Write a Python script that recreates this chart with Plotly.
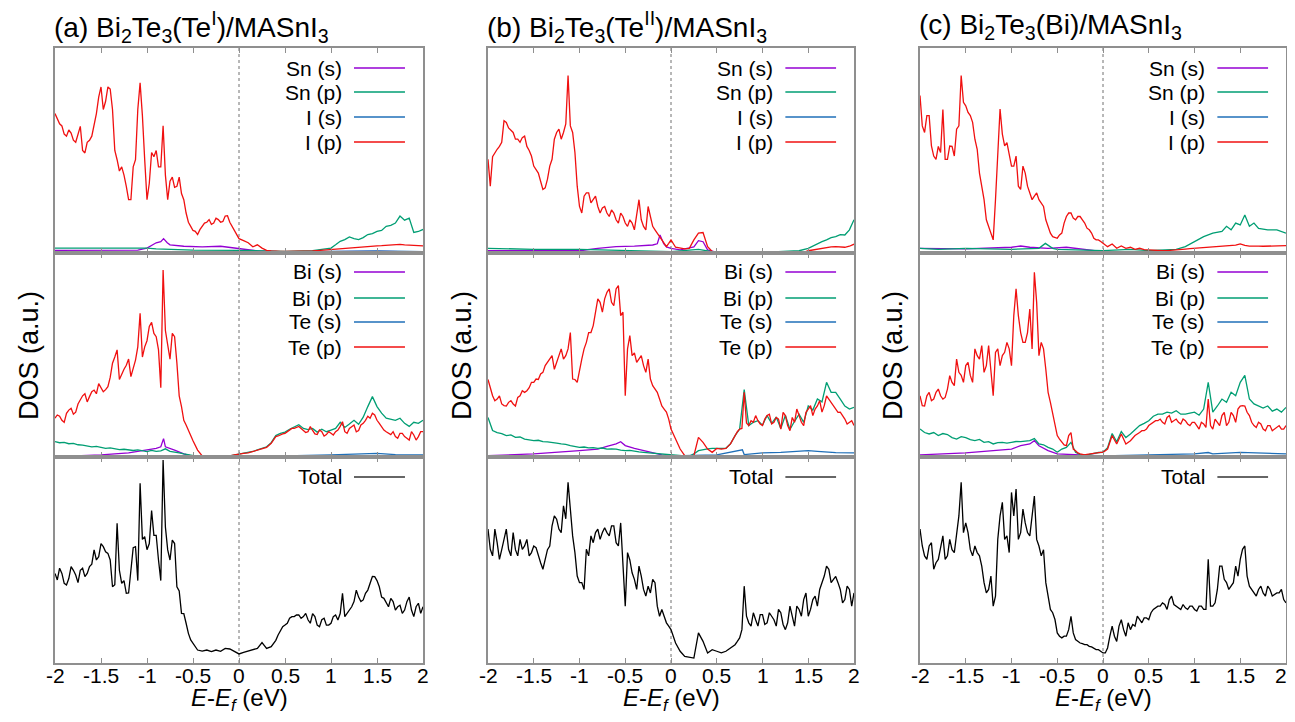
import numpy as np
import plotly.graph_objects as go

# ---------------- data (values in % of panel height) ----------------
E_TICKS = [-2, -1.5, -1, -0.5, 0, 0.5, 1, 1.5, 2]
E_TICKTEXT = ["-2", "-1.5", "-1", "-0.5", "0", "0.5", "1", "1.5", "2"]

titles = ["(a) Bi<sub>2</sub>Te<sub>3</sub>(Te<sup>I</sup>)/MASnI<sub>3</sub>",
          "(b) Bi<sub>2</sub>Te<sub>3</sub>(Te<sup>II</sup>)/MASnI<sub>3</sub>",
          "(c) Bi<sub>2</sub>Te<sub>3</sub>(Bi)/MASnI<sub>3</sub>"]
top_labels = ["Sn (s)", "Sn (p)", "I (s)", "I (p)"]
mid_labels = ["Bi (s)", "Bi (p)", "Te (s)", "Te (p)"]
bot_labels = ["Total"]

# main curves: values every 0.05 eV from -2 to 2; *_mid arrays: values read half-way
# between those points (start energy given in the *_start constants)

# ---- panel (a) ----
a_Ip = [68, 63, 58, 60, 55, 58, 50, 54, 57, 68, 81, 74, 80, 50, 40, 38, 26, 42, 70, 67,
        26, 49, 50, 42, 38, 35, 32, 37, 26, 15, 11, 9, 13, 15, 14, 17, 15, 18, 15, 11,
        7, 6, 5, 3, 4, 2.4, 1.3, 1.0, 0.8, 0.8, 0.8, 0.8, 0.8, 0.8, 0.9, 1.0, 1.0, 1.2, 1.4, 1.5,
        1.6, 1.8, 2.0, 2.2, 2.4, 2.6, 2.8, 3.0, 3.2, 3.4, 3.5, 3.6, 3.8, 3.8, 4.0, 4.2, 4.0, 3.8, 3.5, 3.6, 3.5]
a_Ip_mid_start = -1.975
a_Ip_mid = [65, 62, 57, 58.5, 54, 61.8, 48.8, 55, 61.8, 76, 70, 81, 70, 45.5, 42, 32.5, 26, 45.5, 83, 45.5,
            34, 47, 42, 62, 26, 37, 32.5, 29, 19.5, 13, 10.6, 11.4, 14.6, 16.3, 14.6, 16.3, 15.4, 18.2, 13, 9]
a_Snp_x = [-2, -1.5, -1.0, -0.9, -0.5, 0, 0.3, 0.5, 0.8, 1.0, 1.05, 1.1, 1.15, 1.2, 1.25, 1.3, 1.35, 1.4,
           1.45, 1.5, 1.55, 1.6, 1.65, 1.7, 1.75, 1.8, 1.85, 1.9, 1.95, 2.0]
a_Snp = [2.4, 2.4, 2.4, 2.0, 1.4, 1.3, 0.9, 0.8, 1.2, 2.4, 4, 5.7, 6.5, 7.8, 7, 6.5, 7.5, 9,
         9.5, 10.5, 11, 13, 13.5, 14.6, 18, 16, 17, 10, 10.5, 11.5]
a_Sns_x = [-2, -1.5, -1.1, -1.0, -0.9, -0.85, -0.82, -0.78, -0.75, -0.6, -0.4, -0.2, -0.1, 0, 0.2, 0.5, 1.0, 1.5, 2.0]
a_Sns = [1.3, 1.3, 1.4, 2.4, 5, 5.5, 7, 5, 4, 3.3, 3.0, 3.3, 2.8, 2.0, 1.0, 0.5, 0.8, 0.8, 0.5]
a_Is_x = [-2, 0, 1.5, 2]
a_Is = [0.4, 0.4, 1.0, 0.6]

a_Tep = [19, 20, 17, 23, 21, 26, 30, 27, 32, 31, 34, 33, 39, 49, 38, 43, 48, 44, 54, 49,
         57, 66, 59, 34, 62, 48, 59, 30, 18, 13, 8, 3.4, 0.5, 0.2, 0, 0.1, 0.2, 0.3, 0.5, 1.0,
         1.5, 1.8, 2, 2.6, 3.4, 4, 4.7, 6.7, 10, 11, 11.6, 13, 14, 15, 13, 12.4, 13, 11, 12.4, 11,
         11.6, 12.4, 15, 12.4, 14, 15.7, 13, 16.5, 20, 21.4, 18, 15, 12.4, 11, 10, 11.6, 10, 8.3, 10.8, 10, 12.4]
a_Tep_midL_start = -1.975
a_Tep_midL = [20.6, 18, 21.4, 23.9, 22, 28, 31, 29.6, 32.8, 36, 32, 34.5, 46, 52.5, 41, 45, 39.4, 47.5, 70.4, 54,
              64, 60.6, 52.5, 91.7, 55.7, 60.6, 46, 24.7, 15.7, 10.8]
a_Tep_midR_start = 0.425
a_Tep_midR = [10.3, 11.3, 12.4, 14, 14.5, 14, 12, 14.9, 11.3, 13.2, 10.3, 12.4, 10.8, 13.2, 17.3, 11.6,
              14.9, 12.4, 15.7, 18, 19, 20.6, 16.5, 13.2, 11.6, 12.4, 9.2, 11.6, 9.2, 12.4, 8.3, 12.4]
a_Bip = [7.5, 7, 7.2, 6.5, 6.7, 6, 5.8, 5.3, 5, 5.2, 4.6, 4.2, 4.5, 4, 3.6, 3.8, 3.4, 3.2, 3.5, 3,
         2.6, 3.2, 2.8, 3, 4, 2.8, 2.5, 2, 1.5, 1, 0.6, 0.3, 0.2, 0.2, 0.1, 0.2, 0.3, 0.4, 0.6, 1.0,
         1.5, 1.8, 2.1, 2.7, 3.5, 4.2, 5, 7, 10.5, 11.6, 12.2, 13.6, 14.8, 15.8, 14, 13.4, 14, 12.2, 13.6, 12.4,
         13.2, 14, 17, 14.5, 16.2, 18, 16, 19.5, 24.7, 29.6, 24.7, 21.5, 19, 18.5, 18, 19, 16.5, 15, 17, 16.5, 18]
a_Bis_x = [-2, -1.5, -1.2, -1.0, -0.9, -0.85, -0.82, -0.8, -0.75, -0.7, -0.6, -0.5, 0, 1, 2]
a_Bis = [0.2, 1, 2, 3.4, 4.2, 5, 9, 5, 4, 3.4, 1.5, 0.3, 0.2, 0.2, 0.2]
a_Tes_x = [-2, -1, 0, 0.5, 1, 1.5, 1.7, 2]
a_Tes = [0.3, 0.3, 0.3, 0.6, 1, 1.8, 1.2, 1.0]

a_Tot = [43.5, 46, 38.7, 41, 45, 39, 46, 43.5, 48, 50, 58, 54, 50, 38, 45, 40, 34, 56, 40, 60,
         55, 74, 62, 40, 66, 50, 58, 35, 24, 14.4, 9.5, 6.3, 5.8, 6.3, 5.5, 6.3, 5.7, 7.1, 6.8, 5.5,
         4.4, 5.2, 5.8, 6.3, 7.1, 9.9, 7.1, 7.9, 11, 16, 18.4, 21.7, 22.5, 23.3, 22.5, 21, 24, 18.4, 21, 18.4,
         19.3, 23.3, 24, 22.5, 25.7, 29.8, 32, 30.6, 35.4, 42, 40, 32, 29, 31.4, 25.7, 28, 25.7, 32, 22.5, 29, 27.3]
a_Tot_midL_start = -1.975
a_Tot_midL = [40.3, 43.5, 37.9, 46.8, 42.7, 45, 41.9, 46.8, 54.9, 51.6, 56.5, 53.2, 37, 67.8, 38.7, 33.8, 43.5, 56.5, 87.2, 61.3,
              58, 62, 50, 98.5, 54.9, 59.7, 37, 24.1, 19.3, 11.2]
a_Tot_midR_start = 0.425
a_Tot_midR = [13.6, 17.6, 19.3, 22.5, 23.3, 21.7, 24.1, 19.3, 22.5, 17.6, 21.7, 18.4, 22.5, 20.9, 33.8, 24.1,
              27.3, 35.4, 29.8, 33.8, 38.7, 41.9, 37, 31.4, 27.3, 29.8, 27.3, 24.1, 29.8, 25.7, 27.3, 24.1]

# ---- panel (b) ----
b_Ip = [45.7, 47, 50.6, 54, 63.7, 60, 55.5, 54, 57, 50, 42.4, 39, 31, 36, 45.7, 58.8, 55.5, 63, 62, 49,
        22.7, 27.7, 29.3, 26, 22.7, 22, 19.5, 21, 16.2, 19.5, 14.6, 16.2, 11.3, 26, 13, 22.7, 13, 9.7, 6.4, 3.1,
        6.4, 2.8, 2.3, 2, 2.3, 6.4, 9.7, 10, 3.1, 0.7, 0.3, 0.3, 0.3, 0.3, 0.3, 0.3, 0.3, 0.3, 0.3, 0.3,
        0.3, 0.3, 0.3, 0.3, 0.3, 0.3, 0.3, 0.3, 0.3, 0.3, 1.1, 1.5, 2, 2.4, 2.8, 3, 3.1, 2.9, 2.8, 3.3, 4.3]
b_Ip_mid_start = -1.975
b_Ip_mid = [32.6, 49, 52, 64.5, 61, 58.8, 55.5, 56.3, 52, 47.3, 40.8, 35, 31.8, 42.4, 55.5, 60.4, 58.8, 86.6, 58.8, 32.6,
            19.5, 29.3, 24.4, 27.7, 19.5, 22.7, 17.8, 19.5, 14.6, 17.8, 13, 14.6, 19.5, 16.2, 11.3, 17.8, 11.3, 8, 4.7, 4.7]
b_Snp_x = [-2, -1.5, -1.0, -0.5, 0, 0.3, 0.5, 1.0, 1.4, 1.5, 1.55, 1.6, 1.65, 1.7, 1.75, 1.8, 1.85, 1.9, 1.95, 2.0]
b_Snp = [2.3, 1.8, 1.8, 1.2, 0.7, 1.8, 0.3, 0.3, 1.1, 2.3, 3.5, 4.7, 5.5, 6.4, 7.5, 8, 9, 8.8, 11.3, 16.2]
b_Sns_x = [-2, -1.0, -0.8, -0.6, -0.4, -0.2, -0.15, -0.12, -0.08, -0.05, 0, 0.1, 0.25, 0.3, 0.35, 0.4, 0.5, 2.0]
b_Sns = [1.1, 1.1, 2.3, 3.1, 3.4, 3.9, 4.5, 8.8, 4.5, 3, 2.3, 1.5, 3, 6, 5.5, 1.5, 0.3, 0.3]
b_Is_x = [-2, 2]
b_Is = [0.4, 0.4]

b_Tep = [38, 30, 28.4, 26, 25, 27.6, 25, 30, 31.7, 34, 36.6, 38, 41.5, 46.4, 49.7, 46.4, 53, 49.7, 61, 38,
         41.5, 53, 61, 64.4, 77.5, 71, 80.7, 75.8, 82.4, 69.3, 30, 59.5, 51, 48, 44.8, 48, 35, 31.7, 25, 22,
         13.7, 8.8, 3.9, 0.7, 0.3, 0.7, 9.6, 7.2, 3.9, 2.3, 4.2, 3.9, 4.2, 6.4, 10.5, 13.7, 31.7, 15.4, 17, 17.8,
         15.4, 20.3, 16.2, 19.4, 13.7, 20.3, 12.9, 17, 20.3, 15.4, 23.5, 20.3, 25, 22, 30, 26.8, 23.5, 22, 18.6, 17, 15.4]
b_Tep_midL_start = -1.975
b_Tep_midL = [33.3, 27.6, 30, 25.2, 26.8, 26, 29.2, 32.5, 32.5, 36.6, 38.2, 40.7, 44.8, 48, 43, 50.5, 48, 53, 38.2, 36.6,
              48, 56.2, 61, 71, 75.8, 77.5, 82.4, 74.2, 84, 71, 53, 49.7, 46.4, 49.7, 41.5, 38.2, 33.3, 28.4, 23.5, 18.6]
b_Tep_midR_start = 0.725
b_Tep_midR = [12.4, 14, 16.7, 17.8, 20.3, 16.2, 18.6, 21, 17, 18.6, 21.9, 15.4, 19.4, 23.5, 17, 21.9,
              25.2, 23.5, 27.6, 25.2, 28.4, 25.2, 21.9, 20.3, 16.2, 17.8]
b_Bip = [19.4, 13, 12, 11.5, 10.5, 10.8, 9.6, 9.8, 8.8, 8.5, 8, 8.2, 7.5, 7.4, 7.2, 6.8, 6.4, 6.2, 5.6, 5.2,
         4.7, 4.9, 4.5, 4.6, 4.2, 4.4, 3.9, 4.0, 3.9, 3.4, 3.1, 3.2, 2.7, 2.5, 2.3, 2.1, 2.0, 1.8, 1.5, 1.2,
         1.0, 0.7, 0.5, 0.5, 0.5, 1.5, 3.1, 3.6, 4, 4.2, 4.2, 4, 4.3, 6.5, 10.5, 13.7, 33, 15.4, 17, 17.8,
         15.6, 20.3, 16.5, 19.6, 14, 20.5, 13.5, 17.5, 21, 17, 25, 23, 28.4, 27, 36.6, 31.7, 31.7, 28.4, 25, 23.5, 24.3]
b_Bis_x = [-2, -1.5, -1.0, -0.8, -0.7, -0.6, -0.55, -0.5, -0.4, -0.3, -0.2, -0.1, 0, 2]
b_Bis = [0.7, 1.5, 3.1, 3.9, 5.2, 6.4, 7.5, 5.6, 4.2, 3.1, 2, 1, 0.7, 0.4]
b_Tes_x = [-2, 0, 0.5, 0.78, 0.8, 1.0, 1.2, 1.5, 1.6, 1.8, 2.0]
b_Tes = [0.5, 0.5, 1, 3.5, 1.2, 2, 2.3, 3.1, 2.8, 2.1, 2]

b_Tot = [65, 52, 58.4, 55, 65, 52, 55, 60, 56.8, 52, 56.8, 52, 45.5, 55, 66.6, 69.8, 63.3, 70, 73, 53.6,
         39, 35.7, 52, 58.4, 65, 63.3, 63.3, 66.6, 58.4, 68, 27.6, 50, 40.6, 47, 35.7, 37.3, 40.6, 27.6, 26, 19.5,
         16.2, 9.7, 5.7, 3.2, 2.9, 2.4, 14.6, 10.5, 4.9, 6.5, 5.7, 4.9, 5.7, 7.3, 8.9, 12.2, 37.3, 19.5, 24.4, 17.9,
         23.5, 19.5, 22.7, 17.9, 24.4, 16.2, 27.6, 17.9, 26, 30.8, 22.7, 30.8, 27.6, 39, 47, 39, 42, 35.7, 30.8, 35.7, 34]
b_Tot_midL_start = -1.975
b_Tot_midL = [55.2, 65, 50.3, 60, 55.2, 63.3, 52, 55.2, 60, 53.6, 56, 48.7, 50.3, 56.8, 71.4, 65, 76.3, 87.7, 61.7, 42.2,
              39, 55.2, 61.7, 63.3, 60, 65.7, 61.7, 66.6, 56.8, 50.3, 53.6, 43.8, 35.7, 42.2, 32.5, 34, 39, 22.7, 22.7, 17.9]
b_Tot_midR_start = 0.725
b_Tot_midR = [10.5, 16.2, 22.7, 17.9, 21, 23.5, 18.7, 24.4, 21, 26, 18.7, 19.5, 22.7, 27.6, 22.7, 34,
              26, 32.5, 35.7, 42.2, 45.5, 40.6, 39, 29.2, 37.3, 27.6]

# ---- panel (c) ----
c_Ip = [76.8, 58.8, 67, 47.3, 52, 70, 45.7, 52, 60.4, 86.6, 71.8, 67, 55.5, 39, 26, 13, 6.4, 45, 58, 53.8,
        42.4, 47.3, 31, 39, 29.3, 27.7, 26, 22.7, 13, 8, 7.2, 9.7, 17.8, 19.5, 16.2, 17.8, 14.6, 11.3, 7.2, 6.4,
        4.7, 3.1, 4.4, 2.3, 3.4, 2.3, 2.8, 1.8, 2.3, 1.6, 1.5, 1.3, 1.1, 1.1, 1.2, 1.3, 1.5, 1.7, 1.9, 2.1,
        2.3, 2.4, 2.5, 2.7, 2.8, 3.0, 3.2, 3.4, 3.6, 3.8, 4.4, 3.7, 3.4, 3.5, 3.4, 3.3, 3.4, 3.5, 3.6, 3.4, 3.6]
c_Ip_mid_start = -1.975
c_Ip_mid = [62, 67, 52.2, 45.7, 49, 45.7, 52.2, 47.3, 62, 73.5, 68.6, 63.7, 50.6, 32.6, 16.2, 9.7, 26, 70.2, 52.2, 47.3,
            42.4, 32.6, 42.4, 32.6, 26, 29.3, 24.4, 16.2, 9.7, 7.7, 8.8, 14.6, 19.5, 17, 17.8, 16.2, 12.1, 9.7, 6.4, 5.6]
c_Snp_x = [-2, -1.8, -1.5, -1.0, -0.7, -0.63, -0.55, -0.5, 0, 0.3, 0.5, 0.8, 0.9, 1.0, 1.1, 1.2, 1.3, 1.35,
           1.4, 1.45, 1.5, 1.55, 1.6, 1.65, 1.7, 1.8, 1.9, 2.0]
c_Snp = [2.3, 1.8, 2.3, 1.8, 2.3, 4.7, 2.3, 1.8, 1.2, 1.8, 1.2, 1.8, 3.1, 5.6, 8, 9.7, 10.5, 13,
         11.3, 14.6, 13.7, 18.5, 13, 14.6, 12, 11.3, 11.3, 9.7]
c_Sns_x = [-2, -1.5, -1.0, -0.9, -0.8, -0.6, -0.4, -0.2, 0, 2]
c_Sns = [2.3, 2, 2.8, 3.4, 2.8, 2.3, 2.8, 1.8, 0.7, 0.5]
c_Is_x = [-2, 2]
c_Is = [0.4, 0.4]

c_Tep = [30, 25, 31.7, 28.4, 33.3, 28.4, 33.3, 36.6, 48, 40, 44.8, 40, 53, 48, 41.5, 54.6, 30, 53, 49.7, 56.2,
         44.8, 82.4, 61, 56.2, 72.5, 90.5, 49.7, 53, 31.7, 21.9, 10.5, 7.2, 5.6, 12, 3.1, 1.5, 1, 1.5, 2, 2.3,
         2.3, 3.9, 10.5, 6.4, 11.3, 6.4, 8, 10.5, 12, 12.9, 15.4, 17, 17.8, 17, 19.4, 17, 18.6, 16.2, 17.8, 15.4,
         17, 13.7, 16.2, 28.4, 13.7, 17, 20.3, 15.4, 21.9, 17, 25, 25, 20.3, 15.4, 17, 13.7, 15.4, 12.9, 14.5, 13.7, 15.4]
c_Tep_midL_start = -1.975
c_Tep_midL = [25.2, 30, 27.6, 31.7, 30, 29.2, 39.9, 35, 41.5, 36.6, 46.4, 36.6, 49.7, 54.6, 44.8, 39.9, 51.3, 44.8, 51.3, 53,
              69.3, 69.3, 56.2, 61, 53, 75.8, 56.2, 43, 26.8, 15.4, 8.8, 5.9, 10.5, 3.9, 2, 1.1, 1.3, 1.8, 2.1, 2.3]
c_Tep_midR_start = 0.425
c_Tep_midR = [12.9, 13.7, 16.2, 17.8, 18.6, 16.2, 20.3, 17.8, 17, 18.6, 16.2, 17, 15.4, 17, 14.5, 15.4,
              18.6, 15.4, 21.9, 17, 20.3, 23.5, 25.2, 21.9, 17, 14.5, 16.2, 12.9, 15.4, 13.7, 15.4, 13.7]
c_Bip = [13.7, 12, 11.3, 12, 10.5, 11.5, 11, 9.5, 8.8, 10, 9.5, 8.5, 8, 8.6, 7.2, 7.5, 6.4, 7, 7.2, 6.8,
         7.2, 7.6, 7.5, 7.8, 8, 9, 6.4, 6, 4.7, 3.9, 2.3, 3.9, 4.7, 7.2, 2.3, 1.2, 1, 1.3, 1.8, 2.2,
         2.3, 4.5, 11.5, 7.5, 12.5, 9.5, 11.3, 13.5, 15.4, 16.5, 17.8, 20, 21, 21, 22, 21.5, 22.7, 21, 21, 21.5,
         22, 20.5, 23.5, 36.6, 22, 25, 28.4, 26.8, 31.7, 30, 36.6, 40, 28.4, 26, 25, 24, 25, 22.5, 23.5, 22, 24.3]
c_Bis_x = [-2, -1.5, -1.0, -0.9, -0.8, -0.75, -0.7, -0.6, -0.5, 0, 2]
c_Bis = [1, 2, 3.9, 5.6, 6.4, 8, 5.5, 3.1, 1.5, 0.5, 0.4]
c_Tes_x = [-2, 0, 0.5, 1.0, 1.15, 1.2, 1.5, 1.8, 2.0]
c_Tes = [0.5, 0.5, 1, 1.5, 2.2, 1.5, 2.3, 1.8, 1.5]

c_Tot = [65, 52, 56.8, 45.5, 50.3, 61.7, 52, 55, 63.3, 87.7, 68, 55, 56.8, 52, 39, 35.7, 27.6, 60, 78, 61.7,
         82.8, 84.4, 63.3, 68, 61.7, 81, 56.8, 55, 32.5, 24.4, 14.6, 12.2, 13, 22.7, 11.4, 9.7, 8.9, 8.1, 7.3, 6.5,
         4.9, 7.3, 17.9, 10.5, 21, 13, 16.2, 17.9, 21, 21.9, 21, 26, 27.6, 29.2, 26, 32.5, 27.6, 26, 26.8, 27.6,
         26, 27.6, 26, 50.3, 27.6, 35.7, 47, 39, 37.3, 47, 50.3, 56.8, 37.3, 34, 35.7, 34, 37.3, 32.5, 34, 35.7, 29.2]
c_Tot_midL_start = -1.975
c_Tot_midL = [56.8, 50.3, 58.4, 48.7, 55.2, 50.3, 60, 53.6, 71.4, 63.3, 63.3, 52, 53.6, 47, 34, 42.2, 32.5, 71.4, 60, 53.6,
              71.4, 60, 74.7, 63.3, 71.4, 60, 52, 39, 26, 21.1, 13, 13, 16.2, 14.6, 10.6, 9.4, 8.9, 7.8, 6.5, 5.8]
c_Tot_midR_start = 0.025
c_Tot_midR = [4.9, 13, 13, 17.9, 16.2, 19.5, 18.7, 22.7, 19.5, 21.9, 24.4, 26.8, 27.6, 28.4, 30.8, 28.4, 26.8, 28.4, 26, 27.6,
              25.2, 27.6, 26, 27.6, 29.2, 47, 40.6, 35.7, 39, 42.2, 55.2, 42.2, 35.7, 32.5, 37.3, 32.5, 35.7, 33.3, 34, 30.8]

# ---------------- styling ----------------
WIN_W, WIN_H = 1295, 722
OFF = 8                                  # default page margin of the html body
W, H = WIN_W - 2 * OFF, WIN_H - 2 * OFF  # figure fits the window exactly, no scrollbars
FONT = "Liberation Sans, Arial, sans-serif"
C_PURPLE = "#9400d3"
C_GREEN = "#009e73"
C_BLUE = "#1f6fb8"
C_RED = "#f01010"
C_BLACK = "#000000"
FRAME = "#8f8f8f"

col_px = [(55, 423), (488, 854), (920, 1286)]
row_px = [(48, 253), (253, 457), (457, 663)]  # top, middle, bottom (window pixel y)


def px_x(p):
    return (p - OFF) / W


def px_y(p):
    return 1 - (p - OFF) / H


def grid(vals):
    return np.linspace(-2, 2, len(vals))


def merged(main, *mids):
    """Combine a 0.05-eV curve with readings taken half-way between its points."""
    xs = list(grid(main))
    ys = list(main)
    for start, vals in mids:
        xs += [start + 0.05 * i for i in range(len(vals))]
        ys += list(vals)
    order = np.argsort(xs, kind="stable")
    return np.array(xs)[order], np.array(ys)[order]


curves = {
    (0, 0): [((a_Sns_x, a_Sns), C_PURPLE), ((a_Snp_x, a_Snp), C_GREEN), ((a_Is_x, a_Is), C_BLUE),
             (merged(a_Ip, (a_Ip_mid_start, a_Ip_mid)), C_RED)],
    (0, 1): [((a_Bis_x, a_Bis), C_PURPLE), (merged(a_Bip), C_GREEN), ((a_Tes_x, a_Tes), C_BLUE),
             (merged(a_Tep, (a_Tep_midL_start, a_Tep_midL), (a_Tep_midR_start, a_Tep_midR)), C_RED)],
    (0, 2): [(merged(a_Tot, (a_Tot_midL_start, a_Tot_midL), (a_Tot_midR_start, a_Tot_midR)), C_BLACK)],
    (1, 0): [((b_Sns_x, b_Sns), C_PURPLE), ((b_Snp_x, b_Snp), C_GREEN), ((b_Is_x, b_Is), C_BLUE),
             (merged(b_Ip, (b_Ip_mid_start, b_Ip_mid)), C_RED)],
    (1, 1): [((b_Bis_x, b_Bis), C_PURPLE), (merged(b_Bip), C_GREEN), ((b_Tes_x, b_Tes), C_BLUE),
             (merged(b_Tep, (b_Tep_midL_start, b_Tep_midL), (b_Tep_midR_start, b_Tep_midR)), C_RED)],
    (1, 2): [(merged(b_Tot, (b_Tot_midL_start, b_Tot_midL), (b_Tot_midR_start, b_Tot_midR)), C_BLACK)],
    (2, 0): [((c_Sns_x, c_Sns), C_PURPLE), ((c_Snp_x, c_Snp), C_GREEN), ((c_Is_x, c_Is), C_BLUE),
             (merged(c_Ip, (c_Ip_mid_start, c_Ip_mid)), C_RED)],
    (2, 1): [((c_Bis_x, c_Bis), C_PURPLE), (merged(c_Bip), C_GREEN), ((c_Tes_x, c_Tes), C_BLUE),
             (merged(c_Tep, (c_Tep_midL_start, c_Tep_midL), (c_Tep_midR_start, c_Tep_midR)), C_RED)],
    (2, 2): [(merged(c_Tot, (c_Tot_midL_start, c_Tot_midL), (c_Tot_midR_start, c_Tot_midR)), C_BLACK)],
}
row_labels = {0: top_labels, 1: mid_labels, 2: bot_labels}
row_colors = {0: [C_PURPLE, C_GREEN, C_BLUE, C_RED], 1: [C_PURPLE, C_GREEN, C_BLUE, C_RED], 2: ["#333333"]}
legend_rows_y = {0: [0.902, 0.785, 0.663, 0.541], 1: [0.907, 0.779, 0.662, 0.539], 2: [0.903]}

fig = go.Figure()
layout = dict(width=W, height=H, margin=dict(l=0, r=0, t=0, b=0), autosize=False,
              paper_bgcolor="white", plot_bgcolor="white", showlegend=False,
              font=dict(family=FONT, color="black"))
annotations = []
shapes = []

for c in range(3):
    for r in range(3):
        n = r * 3 + c + 1
        xs = "" if n == 1 else str(n)
        x0p, x1p = col_px[c]
        ytop, ybot = row_px[r]
        layout["xaxis" + xs] = dict(
            domain=[px_x(x0p), px_x(x1p)], anchor="y" + xs, range=[-2, 2],
            tickmode="array", tickvals=E_TICKS, ticktext=E_TICKTEXT,
            ticks="inside", ticklen=5, tickwidth=1, tickcolor=FRAME,
            showticklabels=False,
            showline=True, linecolor=FRAME, linewidth=1.5, mirror="ticks",
            showgrid=False, zeroline=False, fixedrange=True)
        layout["yaxis" + xs] = dict(
            domain=[px_y(ybot), px_y(ytop)], anchor="x" + xs, range=[0, 100],
            showticklabels=False, ticks="", showline=True, linecolor=FRAME, linewidth=1.5,
            mirror=True, showgrid=False, zeroline=False, fixedrange=True)
        for (xx, yy), colr in curves[(c, r)]:
            fig.add_trace(go.Scatter(x=xx, y=yy, mode="lines", xaxis="x" + xs, yaxis="y" + xs,
                                     line=dict(color=colr, width=1.3), hoverinfo="skip"))
        # legend
        for lab, lc, ly in zip(row_labels[r], row_colors[r], legend_rows_y[r]):
            annotations.append(dict(text=lab, xref="x" + xs + " domain", yref="y" + xs + " domain",
                                    x=0.785, y=ly, xanchor="right", yanchor="middle", showarrow=False,
                                    font=dict(family=FONT, size=21, color="black")))
            shapes.append(dict(type="line", xref="x" + xs + " domain", yref="y" + xs + " domain",
                               x0=0.8125, x1=0.951, y0=ly, y1=ly, line=dict(color=lc, width=1.5)))
    xs_b = str(6 + c + 1)
    # tick labels of the bottom axis (placed on the axis scale)
    for tv, tt in zip(E_TICKS, E_TICKTEXT):
        shift = -5 if (c == 2 and tv == 2) else 0
        annotations.append(dict(text=tt, xref="x" + xs_b, yref="paper", x=tv, y=px_y(675),
                                xanchor="center", yanchor="middle", showarrow=False, xshift=shift,
                                borderpad=0, font=dict(family=FONT, size=21, color="black")))
    # dashed zero line spanning the column
    shapes.append(dict(type="line", xref="x" + xs_b, yref="paper", x0=0, x1=0,
                       y0=px_y(row_px[2][1]), y1=px_y(row_px[0][0]), layer="below",
                       line=dict(color="#707070", width=1, dash="3px,3px")))
    # title
    annotations.append(dict(text=titles[c], xref="paper", yref="paper", x=px_x(col_px[c][0] - 3), y=px_y(27),
                            xanchor="left", yanchor="middle", showarrow=False,
                            font=dict(family=FONT, size=28, color="black")))
    # x label (as low as the window allows)
    annotations.append(dict(text="<i>E</i>-<i>E</i><sub><i>f</i></sub> (eV)", xref="paper", yref="paper",
                            x=px_x((col_px[c][0] + col_px[c][1]) / 2), y=px_y(699),
                            xanchor="center", yanchor="middle", showarrow=False, borderpad=0,
                            font=dict(family=FONT, size=24, color="black")))
    # y label
    annotations.append(dict(text="DOS (a.u.)", xref="paper", yref="paper",
                            x=px_x([29, 462, 893][c]), y=px_y(356), textangle=-90,
                            xanchor="center", yanchor="middle", showarrow=False,
                            font=dict(family=FONT, size=27, color="black")))

layout["annotations"] = annotations
layout["shapes"] = shapes
fig.update_layout(**layout)
fig.write_html("out.html", config={"displayModeBar": False})
